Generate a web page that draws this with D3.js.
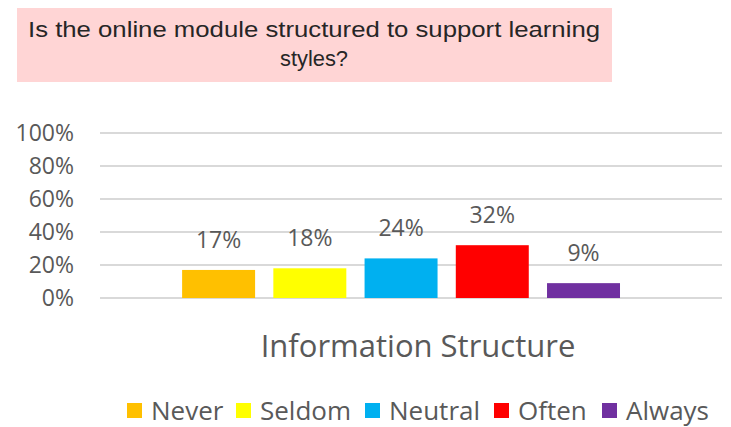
<!DOCTYPE html>
<html>
<head>
<meta charset="utf-8">
<script src="https://cdn.jsdelivr.net/npm/d3@7"></script>
<style>
  body { margin: 0; background: #fff; }
  svg { display: block; }
</style>
</head>
<body>
<div id="chart"></div>
<script>
// chart data
var categories = ["Information Structure"],
  series = ["Never", "Seldom", "Neutral", "Often", "Always"],
  values = [0.17, 0.18, 0.24, 0.32, 0.09],
  colors = ["#FFC000", "#FFFF00", "#00B0F0", "#FF0000", "#7030A0"],
  yTicks = [0, 0.2, 0.4, 0.6, 0.8, 1.0],
  titleLines = ["Is the online module structured to support learning", "styles?"];

var svg_dx = 731,
  svg_dy = 427,
  plot = { left: 100, right: 722, top: 133, bottom: 298 };

var svg = d3.select("#chart")
  .append("svg")
  .attr("width", svg_dx)
  .attr("height", svg_dy);

var textColor = "#595959",
  font = "'Open Sans', sans-serif";

// title box
svg.append("rect")
  .attr("x", 17)
  .attr("y", 8)
  .attr("width", 595)
  .attr("height", 74)
  .attr("fill", "#FFD5D5");

svg.selectAll(".title")
  .data(titleLines)
  .enter()
  .append("text")
  .attr("class", "title")
  .attr("x", 314)
  .attr("y", (d, i) => 37 + i * 29)
  .attr("text-anchor", "middle")
  .attr("font-family", "'Liberation Sans', sans-serif")
  .attr("font-size", 22)
  .attr("fill", "#262626")
  .attr("textLength", (d, i) => i === 0 ? 572 : 68)
  .attr("lengthAdjust", "spacingAndGlyphs")
  .text(d => d);

// scales
var y = d3.scaleLinear().domain([0, 1]).range([plot.bottom, plot.top]);

var x0 = d3.scaleBand()
  .domain(categories)
  .range([plot.left, plot.right])
  .paddingInner(0.296)
  .paddingOuter(0.148)
  .align(0.446);

var x1 = d3.scaleBand()
  .domain(series)
  .range([0, x0.bandwidth()])
  .paddingInner(0.2)
  .paddingOuter(0);

// gridlines
svg.append("g")
  .selectAll("line")
  .data(yTicks)
  .enter()
  .append("line")
  .attr("x1", plot.left)
  .attr("x2", plot.right)
  .attr("y1", d => y(d))
  .attr("y2", d => y(d))
  .attr("stroke", "#D9D9D9")
  .attr("stroke-width", 2);

// y axis labels
var yAxis = d3.axisLeft(y)
  .tickValues(yTicks)
  .tickFormat(d3.format(".0%"))
  .tickSize(0)
  .tickPadding(0);

var gy = svg.append("g")
  .attr("transform", "translate(74,0)")
  .call(yAxis);
gy.select(".domain").remove();
gy.selectAll("text")
  .attr("font-family", font)
  .attr("font-size", 23)
  .attr("fill", textColor);

// bars
var group = svg.append("g")
  .attr("transform", "translate(" + x0(categories[0]) + ",0)");

group.selectAll("rect")
  .data(values)
  .enter()
  .append("rect")
  .attr("x", (d, i) => x1(series[i]))
  .attr("y", d => y(d))
  .attr("width", x1.bandwidth())
  .attr("height", d => y(0) - y(d))
  .attr("fill", (d, i) => colors[i]);

group.selectAll(".label")
  .data(values)
  .enter()
  .append("text")
  .attr("class", "label")
  .attr("x", (d, i) => x1(series[i]) + x1.bandwidth() / 2)
  .attr("y", d => y(d) - 22)
  .attr("text-anchor", "middle")
  .attr("font-family", font)
  .attr("font-size", 23)
  .attr("fill", textColor)
  .text(d => d3.format(".0%")(d));

// category label
svg.append("text")
  .attr("x", 418)
  .attr("y", 357)
  .attr("text-anchor", "middle")
  .attr("font-family", font)
  .attr("font-size", 31)
  .attr("fill", textColor)
  .text(categories[0]);

// legend
var legendX = [127, 236, 365, 494, 602];
var legend = svg.append("g")
  .selectAll("g")
  .data(series)
  .enter()
  .append("g")
  .attr("transform", (d, i) => "translate(" + legendX[i] + ",403)");

legend.append("rect")
  .attr("width", 15)
  .attr("height", 15)
  .attr("fill", (d, i) => colors[i]);

legend.append("text")
  .attr("x", 24)
  .attr("y", 17)
  .attr("font-family", font)
  .attr("font-size", 26)
  .attr("fill", textColor)
  .text(d => d);
</script>
</body>
</html>
